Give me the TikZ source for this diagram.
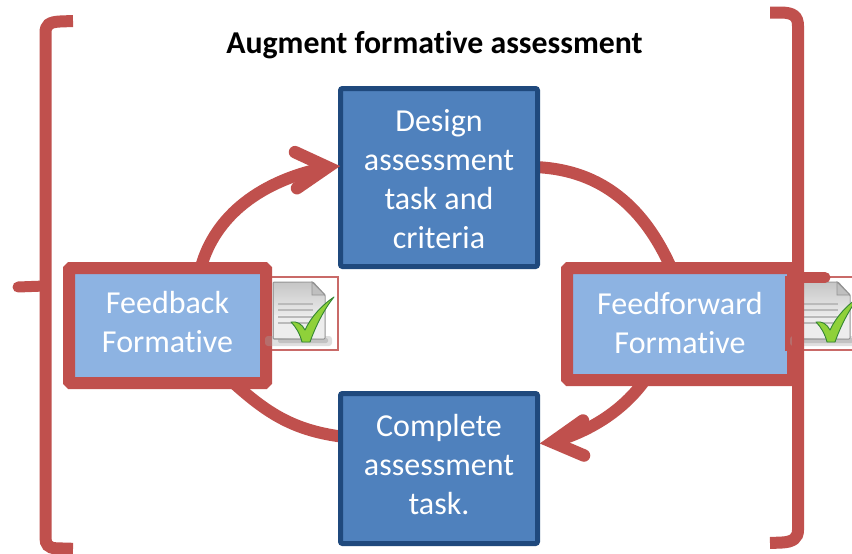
\documentclass[tikz,border=0pt]{standalone}
\usepackage{fontspec}
\setmainfont{Carlito}[Ligatures=CommonOff]
\usetikzlibrary{backgrounds}
\definecolor{brk}{HTML}{C0504D}
\definecolor{bluefill}{HTML}{4F81BD}
\definecolor{blueline}{HTML}{1F497D}
\definecolor{paleblue}{HTML}{8DB3E2}
\definecolor{chk}{HTML}{8FD13A}
\newcommand{\docicon}[2]{%
\begin{scope}[shift={(#1,#2)}]
\draw[brk!85!white,line width=1.2pt] (261,277) rectangle (338,350);
\draw[brk,line width=1.4pt] (272,277) -- (261,277) -- (261,350) -- (272,350);
\fill[black!35,opacity=.35,rounded corners=3pt] (265,336) rectangle (332,346);
\fill[black!45,opacity=.35,rounded corners=2pt] (278,338) rectangle (328,343);
\draw[left color=black!28,right color=black!8,draw=black!42,line width=1pt,rounded corners=1pt] (273,282) -- (313,282) -- (325,295) -- (325,339) -- (273,339) -- cycle;
\shade[top color=black!22,bottom color=black!8] (274,283) -- (312,283) -- (324,296) -- (324,315) -- (274,315) -- cycle;
\fill[black!7] (274,315) rectangle (324,338);
\draw[draw=black!42,fill=black!25,line width=.8pt] (312,282) -- (312,295) -- (325,295) -- cycle;
\foreach \yy in {304,310,317,323}{\draw[black!27,line width=2.5pt] (278,\yy) -- (313,\yy);}
\draw[draw=green!40!black!80,fill=chk,line width=.9pt,line join=round] (291,322) .. controls (297,321) and (302,324) .. (305,330) .. controls (311,317) and (322,305) .. (334,297) .. controls (325,308) and (316,325) .. (310,342) -- (302,342) .. controls (300,334) and (296,327) .. (291,322) -- cycle;
\end{scope}}
\tikzset{
  curve/.style={brk,line width=12pt},
  barb/.style={brk,line width=12.5pt,line cap=round,miter limit=10},
  task/.style={draw=blueline,fill=bluefill,line width=5pt,rounded corners=2pt,inner sep=0pt,outer sep=0pt,text=white,font=\fontsize{32}{39}\selectfont,align=center,minimum width=197pt},
  review/.style={draw=brk,fill=paleblue,line width=12pt,rounded corners=1.5pt,inner sep=0pt,outer sep=0pt,text=white,font=\fontsize{32}{39}\selectfont,align=center},
  bracket/.style={brk,line width=12pt,line cap=butt},
  nib/.style={brk,line width=11pt,line cap=round},
}
\begin{document}
\begin{tikzpicture}[x=1pt,y=-1pt]
\clip (0,0) rectangle (852,554);
% nodes
\node[task,minimum height=178pt] (design) at (439,177.5) {\rule{0pt}{26pt}Design\\assessment\\task and\\criteria};
\node[task,minimum height=150pt] (complete) at (439,468.5) {Complete\\assessment\\task.\rule[-9pt]{0pt}{1pt}};
\node[review,minimum width=197pt,minimum height=115pt] (fb) at (167.5,325.5) {Feedback\\Formative\rule[-7pt]{0pt}{1pt}};
\node[review,minimum width=226pt,minimum height=112pt] (ff) at (680,324) {Feedforward\\Formative\rule[-3pt]{0pt}{1pt}};
\node[font=\fontsize{31.8}{36}\selectfont\bfseries] (title) at (434.5,45) {Augment formative assessment};
% connectors under the boxes
\begin{scope}[on background layer]
\fill[white] (0,0) rectangle (852,554);
\draw[curve] (fb.60) .. controls (215,215) and (262,180) .. ([shift={(-13,0)}]design.174);
\draw[curve] (design.6) to[out=-3,in=114] (ff.99);
\draw[curve] (ff.-122) .. controls (622,412) and (588,432) .. ([shift={(15,0)}]complete.15.8);
\draw[curve] (fb.-41.7) to[out=-42,in=172] (complete.162);
\end{scope}
% arrowheads over the box edge
\draw[barb] ([shift={(-45.5,-15)}]design.174) -- ([shift={(-13,0)}]design.174) -- ([shift={(-43.5,21)}]design.174);
\draw[barb] ([shift={(45.5,-21.6)}]complete.15.8) -- ([shift={(15,0)}]complete.15.8) -- ([shift={(46.5,13.4)}]complete.15.8);
\docicon{0}{0}
\docicon{525}{0}
% brackets
\draw[bracket] (73,21) -- (60,21.5) .. controls (49,22) and (45.5,25) .. (45.5,33) -- (45.5,538) .. controls (45.5,544) and (48,548) .. (56,548.3) -- (73,548.8);
\draw[nib] (18,287) -- (45,286);
\draw[bracket] (770,12.5) -- (782,12.5) .. controls (793,13) and (798,16) .. (798,26) -- (798,530) .. controls (798,538) and (793,542) .. (782,542.5) -- (770,543);
\draw[nib] (798,277.5) -- (825,277.5);
\end{tikzpicture}
\end{document}
